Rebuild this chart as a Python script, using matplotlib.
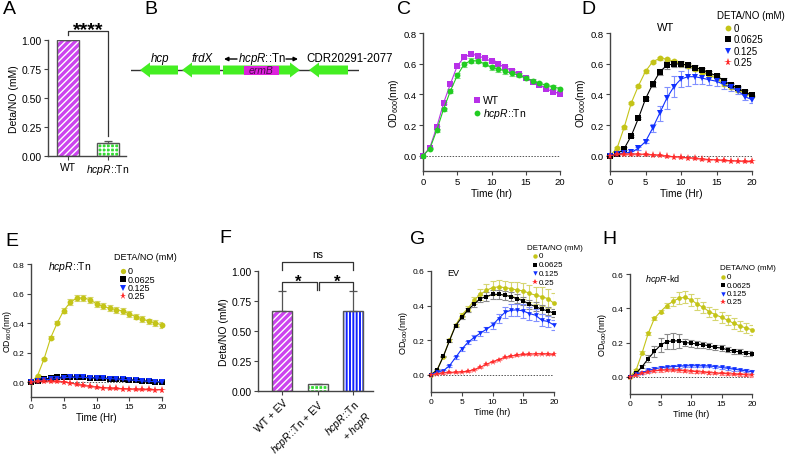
import matplotlib
matplotlib.use("Agg")
import matplotlib.pyplot as plt
import numpy as np
from matplotlib.lines import Line2D

plt.rcParams["font.family"] = ["Liberation Sans", "DejaVu Sans"]
plt.rcParams["mathtext.fontset"] = "custom"
plt.rcParams["mathtext.rm"] = "Liberation Sans"
plt.rcParams["mathtext.it"] = "Liberation Sans:italic"
plt.rcParams["mathtext.bf"] = "Liberation Sans:bold"
plt.rcParams["hatch.linewidth"] = 1.0

W, H = 788, 460
HCPR_TN = r"$\it{hcpR}$::Tn"
OD_LABEL = r"OD$_{600}$(nm)"

# ---- A: NO consumption
a_labels = ["WT", HCPR_TN]
a_values = [1.0, 0.11]
a_errors = [0.0, 0.02]

# ---- B: gene map (positions along the locus, arbitrary units)
gene_names = ["hcp", "frdX", "hcpR", "CDR20291-2077"]
gene_start = [9, 51, 92, 178]
gene_end = [47, 89, 169, 217]
gene_strand = [-1, -1, 1, -1]
ermb_start, ermb_end = 113, 148
locus_length = 228

hours = np.arange(21)

# ---- C: WT vs hcpR::Tn growth
c_wt = [0.0, 0.053, 0.185, 0.343, 0.468, 0.585, 0.642, 0.664, 0.653, 0.635, 0.615,
        0.598, 0.576, 0.554, 0.530, 0.508, 0.481, 0.462, 0.435, 0.418, 0.404]
c_wt_err = [0.0, 0.005, 0.008, 0.008, 0.008, 0.008, 0.008, 0.008, 0.008, 0.008, 0.008,
            0.008, 0.008, 0.008, 0.008, 0.008, 0.008, 0.008, 0.008, 0.008, 0.008]
c_tn = [0.0, 0.046, 0.165, 0.303, 0.422, 0.523, 0.596, 0.620, 0.618, 0.598, 0.576,
        0.565, 0.552, 0.536, 0.525, 0.505, 0.490, 0.473, 0.459, 0.448, 0.437]
c_tn_err = [0.0, 0.005, 0.008, 0.01, 0.012, 0.015, 0.015, 0.015, 0.015, 0.015, 0.015,
            0.018, 0.018, 0.018, 0.015, 0.012, 0.01, 0.01, 0.01, 0.01, 0.01]
c_labels = ["WT", HCPR_TN]

doses = ["0", "0.0625", "0.125", "0.25"]

# ---- D: WT with DETA/NO
d_vals = [
    [0.0, 0.050, 0.185, 0.344, 0.455, 0.550, 0.612, 0.635, 0.630, 0.615, 0.600,
     0.585, 0.565, 0.545, 0.525, 0.505, 0.465, 0.448, 0.430, 0.405, 0.390],
    [0.0, 0.010, 0.046, 0.130, 0.244, 0.370, 0.466, 0.545, 0.590, 0.598, 0.598,
     0.590, 0.575, 0.560, 0.540, 0.520, 0.490, 0.462, 0.440, 0.415, 0.395],
    [0.0, 0.009, 0.017, 0.022, 0.048, 0.092, 0.179, 0.277, 0.375, 0.450, 0.500,
     0.515, 0.515, 0.505, 0.495, 0.485, 0.465, 0.445, 0.425, 0.385, 0.365],
    [0.0, 0.008, 0.010, 0.010, 0.010, 0.008, 0.005, 0.002, -0.003, -0.007, -0.010,
     -0.014, -0.018, -0.022, -0.025, -0.028, -0.031, -0.033, -0.035, -0.037, -0.038],
]
d_errs = [
    [0.0, 0.005, 0.008, 0.008, 0.008, 0.008, 0.008, 0.008, 0.01, 0.01, 0.012,
     0.012, 0.012, 0.012, 0.012, 0.012, 0.012, 0.012, 0.012, 0.012, 0.012],
    [0.0, 0.005, 0.008, 0.008, 0.008, 0.01, 0.015, 0.02, 0.025, 0.02, 0.018,
     0.015, 0.015, 0.015, 0.015, 0.015, 0.015, 0.015, 0.015, 0.015, 0.015],
    [0.0, 0.004, 0.005, 0.006, 0.008, 0.012, 0.025, 0.05, 0.07, 0.07, 0.05,
     0.06, 0.045, 0.04, 0.035, 0.03, 0.03, 0.025, 0.025, 0.02, 0.02],
    [0.0, 0.003, 0.003, 0.003, 0.003, 0.003, 0.003, 0.003, 0.003, 0.003, 0.003,
     0.003, 0.003, 0.003, 0.003, 0.003, 0.003, 0.003, 0.003, 0.003, 0.003],
]

# ---- E: hcpR::Tn with DETA/NO
e_vals = [
    [0.0, 0.045, 0.158, 0.300, 0.401, 0.485, 0.541, 0.570, 0.570, 0.559, 0.530,
     0.514, 0.500, 0.491, 0.482, 0.462, 0.444, 0.428, 0.412, 0.401, 0.388],
    [0.0, 0.010, 0.020, 0.028, 0.032, 0.035, 0.036, 0.035, 0.033, 0.031, 0.029,
     0.027, 0.025, 0.022, 0.019, 0.016, 0.012, 0.009, 0.006, 0.003, 0.0],
    [0.0, 0.008, 0.015, 0.020, 0.025, 0.030, 0.034, 0.034, 0.033, 0.031, 0.029,
     0.027, 0.025, 0.022, 0.019, 0.016, 0.012, 0.009, 0.006, 0.004, 0.002],
    [0.0, 0.005, 0.007, 0.006, 0.005, 0.002, -0.005, -0.015, -0.022, -0.028, -0.033,
     -0.037, -0.040, -0.042, -0.044, -0.046, -0.047, -0.048, -0.049, -0.050, -0.050],
]
e_errs = [
    [0.0, 0.005, 0.008, 0.01, 0.01, 0.015, 0.02, 0.022, 0.022, 0.02, 0.02,
     0.02, 0.02, 0.02, 0.02, 0.02, 0.018, 0.018, 0.018, 0.018, 0.018],
    [0.0, 0.004, 0.004, 0.004, 0.004, 0.004, 0.004, 0.004, 0.004, 0.004, 0.004,
     0.004, 0.004, 0.004, 0.004, 0.004, 0.004, 0.004, 0.004, 0.004, 0.004],
    [0.0, 0.004, 0.004, 0.004, 0.004, 0.004, 0.004, 0.004, 0.004, 0.004, 0.004,
     0.004, 0.004, 0.004, 0.004, 0.004, 0.004, 0.004, 0.004, 0.004, 0.004],
    [0.0, 0.003, 0.003, 0.003, 0.003, 0.003, 0.003, 0.003, 0.003, 0.003, 0.003,
     0.003, 0.003, 0.003, 0.003, 0.003, 0.003, 0.003, 0.003, 0.003, 0.003],
]

# ---- F: complementation
f_labels = ["WT + EV", HCPR_TN + " + EV", HCPR_TN + "\n+ " + r"$\it{hcpR}$"]
f_values = [0.665, 0.06, 0.665]
f_errors = [0.165, 0.0, 0.165]

# ---- G: EV with DETA/NO
g_vals = [
    [0.0, 0.030, 0.105, 0.200, 0.287, 0.346, 0.383, 0.430, 0.465, 0.488, 0.504,
     0.508, 0.504, 0.498, 0.490, 0.485, 0.471, 0.460, 0.452, 0.440, 0.413],
    [0.0, 0.027, 0.106, 0.196, 0.283, 0.331, 0.375, 0.408, 0.440, 0.452, 0.465,
     0.465, 0.460, 0.452, 0.440, 0.427, 0.408, 0.394, 0.379, 0.369, 0.356],
    [0.0, 0.017, 0.023, 0.052, 0.100, 0.148, 0.187, 0.215, 0.240, 0.263, 0.287,
     0.325, 0.360, 0.373, 0.375, 0.369, 0.354, 0.344, 0.315, 0.308, 0.287],
    [0.0, 0.005, 0.010, 0.013, 0.015, 0.017, 0.020, 0.030, 0.043, 0.060, 0.075,
     0.088, 0.100, 0.108, 0.113, 0.117, 0.119, 0.120, 0.121, 0.120, 0.117],
]
g_errs = [
    [0.0, 0.005, 0.005, 0.008, 0.008, 0.01, 0.015, 0.02, 0.03, 0.035, 0.04,
     0.04, 0.04, 0.04, 0.045, 0.045, 0.05, 0.05, 0.055, 0.055, 0.06],
    [0.0, 0.005, 0.005, 0.008, 0.008, 0.01, 0.012, 0.015, 0.02, 0.025, 0.025,
     0.025, 0.025, 0.025, 0.025, 0.025, 0.025, 0.025, 0.025, 0.025, 0.025],
    [0.0, 0.004, 0.005, 0.006, 0.008, 0.01, 0.01, 0.012, 0.015, 0.015, 0.02,
     0.025, 0.03, 0.035, 0.035, 0.04, 0.04, 0.035, 0.035, 0.03, 0.03],
    [0.0, 0.003, 0.003, 0.003, 0.003, 0.003, 0.003, 0.003, 0.004, 0.004, 0.004,
     0.004, 0.004, 0.004, 0.004, 0.004, 0.004, 0.004, 0.004, 0.004, 0.004],
]

# ---- H: hcpR knockdown with DETA/NO
h_vals = [
    [0.0, 0.040, 0.142, 0.255, 0.341, 0.380, 0.415, 0.440, 0.458, 0.464, 0.450,
     0.425, 0.405, 0.380, 0.363, 0.347, 0.331, 0.312, 0.298, 0.285, 0.275],
    [0.0, 0.020, 0.060, 0.107, 0.148, 0.185, 0.205, 0.210, 0.210, 0.200, 0.197,
     0.191, 0.187, 0.181, 0.172, 0.168, 0.158, 0.150, 0.146, 0.138, 0.134],
    [0.0, 0.015, 0.025, 0.038, 0.047, 0.053, 0.057, 0.060, 0.062, 0.064, 0.065,
     0.065, 0.064, 0.063, 0.060, 0.055, 0.050, 0.045, 0.040, 0.035, 0.030],
    [0.0, 0.010, 0.020, 0.030, 0.035, 0.038, 0.040, 0.040, 0.038, 0.035, 0.033,
     0.030, 0.028, 0.025, 0.022, 0.020, 0.018, 0.016, 0.014, 0.012, 0.010],
]
h_errs = [
    [0.0, 0.005, 0.008, 0.008, 0.01, 0.01, 0.015, 0.025, 0.035, 0.035, 0.035,
     0.035, 0.03, 0.03, 0.03, 0.03, 0.03, 0.03, 0.03, 0.03, 0.03],
    [0.0, 0.006, 0.01, 0.02, 0.03, 0.04, 0.045, 0.045, 0.04, 0.02, 0.02,
     0.02, 0.018, 0.018, 0.015, 0.015, 0.015, 0.015, 0.015, 0.015, 0.015],
    [0.0, 0.005, 0.006, 0.008, 0.008, 0.008, 0.008, 0.008, 0.008, 0.008, 0.008,
     0.008, 0.008, 0.008, 0.008, 0.008, 0.008, 0.008, 0.008, 0.008, 0.008],
    [0.0, 0.005, 0.006, 0.008, 0.008, 0.008, 0.008, 0.008, 0.008, 0.008, 0.008,
     0.008, 0.008, 0.008, 0.008, 0.008, 0.008, 0.008, 0.008, 0.008, 0.008],
]

YELLOW, BLACK, BLUE, RED = "#c4c418", "#000000", "#1030ff", "#ff2a2a"
dose_styles = [
    dict(color=YELLOW, marker="o", ecolor="#d6d670"),
    dict(color=BLACK, marker="s", ecolor="#8a8a8a"),
    dict(color=BLUE, marker="v", ecolor="#8090ff"),
    dict(color=RED, marker="*", ecolor="#ff9090"),
]
c_styles = [dict(color="#b830e8", marker="s", ecolor="#d090f0"),
            dict(color="#22cc22", marker="o", ecolor="#80dd80")]
AXIS_COLOR = "#444444"

fig = plt.figure(figsize=(W / 100, H / 100), dpi=100)


def px_axes(x0, y0, x1, y1):
    return fig.add_axes([x0 / W, 1 - y1 / H, (x1 - x0) / W, (y1 - y0) / H])


def fig_text(x, y, s, **kw):
    kw.setdefault("va", "center")
    return fig.text(x / W, 1 - y / H, s, **kw)


def style_axes(ax, fs):
    for side in ("top", "right"):
        ax.spines[side].set_visible(False)
    for side in ("left", "bottom"):
        ax.spines[side].set_color(AXIS_COLOR)
        ax.spines[side].set_linewidth(1.0)
    ax.tick_params(direction="out", length=3, width=0.8, color=AXIS_COLOR,
                   labelsize=fs, pad=1.5)


def hatched_bars(ax, values, colors, hatches, width):
    for xi, v, c, h in zip(range(len(values)), values, colors, hatches):
        ax.bar(xi, v, width=width, color=c, edgecolor="white", hatch=h, linewidth=0)
        ax.bar(xi, v, width=width, fill=False, edgecolor="#555555", linewidth=1.0)


def bracket(ax, x0, x1, y, drop0, drop1):
    ax.plot([x0, x0, x1, x1], [drop0, y, y, drop1], color="#333333", lw=0.9,
            clip_on=False)


def marker_size(st, ms):
    return ms * 1.35 if st["marker"] == "*" else ms


def growth_panel(ax, series, errors, styles, ylim, yticks, ms, fs, xlabel):
    ax.axhline(0, color="#555555", lw=0.7, ls=(0, (1.5, 1.5)), zorder=1)
    for vals, errs, st in zip(series, errors, styles):
        ax.errorbar(hours, vals, yerr=errs, fmt="none", ecolor=st["ecolor"],
                    elinewidth=0.8, capsize=2, capthick=0.8, zorder=2)
        ax.plot(hours, vals, color=st["color"], lw=0.8, marker=st["marker"],
                markersize=marker_size(st, ms), markeredgewidth=0, clip_on=False,
                zorder=3)
    ax.set_xlim(0, 20)
    ax.set_ylim(*ylim)
    ax.set_xticks([0, 5, 10, 15, 20])
    ax.set_yticks(yticks)
    ax.set_yticklabels([f"{v:.1f}" for v in yticks])
    ax.set_xlabel(xlabel, fontsize=fs + 0.5, labelpad=1)
    ax.set_ylabel(OD_LABEL, fontsize=fs + 0.5, labelpad=2)
    style_axes(ax, fs)


def marker_legend(labels, styles, marker_x, text_x, y0, dy, ms, fs,
                  title=None, title_x=None, title_y=None):
    if title is not None:
        fig_text(title_x, title_y, title, fontsize=fs, ha="left")
    for i, (label, st) in enumerate(zip(labels, styles)):
        y = y0 + i * dy
        fig.add_artist(Line2D([marker_x / W], [1 - y / H], transform=fig.transFigure,
                              ls="none", marker=st["marker"], color=st["color"],
                              markersize=marker_size(st, ms), markeredgewidth=0))
        fig_text(text_x, y, label, fontsize=fs, ha="left")


# ---------------- A
ax = px_axes(48, 41, 126, 157)
hatched_bars(ax, a_values, ["#cc44ee", "#33dd33"], ["/////", "++++"], 0.55)
ax.errorbar([0, 1], a_values, yerr=[[0, 0], a_errors], fmt="none", ecolor="#555555",
            elinewidth=0.9, capsize=3, capthick=0.9)
ax.set_xlim(-0.5, 1.45)
ax.set_ylim(0, 1.0)
ax.set_yticks([0, 0.25, 0.5, 0.75, 1.0])
ax.set_yticklabels(["0.00", "0.25", "0.50", "0.75", "1.00"])
ax.set_xticks([0, 1])
ax.set_xticklabels(a_labels)
ax.set_ylabel("Deta/NO (mM)", fontsize=7.5, labelpad=2)
style_axes(ax, 7.5)
bracket(ax, 0, 1, 1.078, 1.045, 0.17)
ax.text(0.5, 1.05, "****", ha="center", va="baseline", fontsize=14,
        fontweight="bold", clip_on=False)
fig_text(3, 10, "A", fontsize=14)

# ---------------- B
ax = px_axes(131, 41, 359, 101)
ax.set_xlim(0, locus_length)
ax.set_ylim(-30, 30)
ax.axis("off")
ax.plot([0, locus_length], [0, 0], color="#333333", lw=1.0, zorder=1)
body, head, head_len = 4.5, 7.5, 10
for name, s, e, strand in zip(gene_names, gene_start, gene_end, gene_strand):
    if strand > 0:
        xs = [s, e - head_len, e - head_len, e, e - head_len, e - head_len, s]
    else:
        xs = [e, s + head_len, s + head_len, s, s + head_len, s + head_len, e]
    ys = [-body, -body, -head, 0, head, body, body]
    ax.fill(xs, ys, color="#44ee22", lw=0, zorder=2)
ax.fill([ermb_start, ermb_end, ermb_end, ermb_start], [-body, -body, body, body],
        color="#dd22dd", lw=0, zorder=3)
ax.text((ermb_start + ermb_end) / 2, -0.5, "ermB", style="italic", fontsize=7.5,
        color="#4a0a4a", ha="center", va="center", zorder=4)
for name, s, e in zip(gene_names[:2], gene_start[:2], gene_end[:2]):
    ax.text((s + e) / 2 + 1, 11.5, name, style="italic", fontsize=8.3,
            ha="center", va="center")
tn_mid = (gene_start[2] + gene_end[2]) / 2
ax.text(tn_mid, 11.5, HCPR_TN, fontsize=8.3, ha="center", va="center")
ax.annotate("", xy=(gene_start[2] + 1, 11), xytext=(gene_start[2] + 14, 11),
            arrowprops=dict(arrowstyle="-|>", lw=1.0, color="k", mutation_scale=6,
                            shrinkA=0, shrinkB=0))
ax.annotate("", xy=(gene_end[2] - 2, 11), xytext=(gene_end[2] - 14, 11),
            arrowprops=dict(arrowstyle="-|>", lw=1.0, color="k", mutation_scale=6,
                            shrinkA=0, shrinkB=0))
ax.text(gene_start[3] - 3, 11.5, gene_names[3], fontsize=8.3, ha="left",
        va="center", clip_on=False)
fig_text(144, 10, "B", fontsize=14)

# ---------------- C
ax = px_axes(423, 34, 560, 172)
growth_panel(ax, [c_wt, c_tn], [c_wt_err, c_tn_err], c_styles, (-0.1, 0.8),
             [0.0, 0.2, 0.4, 0.6, 0.8], 4.2, 6.8, "Time (hr)")
marker_legend(c_labels, c_styles, 477, 483, 101, 13, 4.2, 7.5)
fig_text(397, 10, "C", fontsize=14)

# ---------------- D
ax = px_axes(610, 34, 752, 172)
growth_panel(ax, d_vals, d_errs, dose_styles, (-0.1, 0.8),
             [0.0, 0.2, 0.4, 0.6, 0.8], 4.2, 6.8, "Time (Hr)")
fig_text(666, 28, "WT", fontsize=8, ha="center")
marker_legend(doses, dose_styles, 728, 734, 29, 11.3, 4.2, 7,
              "DETA/NO (mM)", 717, 16)
fig_text(581, 10, "D", fontsize=14)

# ---------------- E
ax = px_axes(31, 265, 162, 398)
growth_panel(ax, e_vals, e_errs, dose_styles, (-0.1, 0.8),
             [0.0, 0.2, 0.4, 0.6, 0.8], 4.2, 6, "Time (Hr)")
ax.xaxis.label.set_fontsize(7)
ax.yaxis.label.set_fontsize(6.3)
ax.yaxis.set_label_coords(-0.13, 0.5)
fig_text(70, 267, HCPR_TN, fontsize=7.5, ha="center")
marker_legend(doses, dose_styles, 123, 128, 272, 8.3, 3.8, 6.5,
              "DETA/NO (mM)", 114, 257)
fig_text(5, 242, "E", fontsize=14)

# ---------------- F
ax = px_axes(258, 272, 373, 392)
hatched_bars(ax, f_values, ["#cc44ee", "#33dd33", "#1020ff"],
             ["/////", "++++", "|||||"], 0.56)
ax.errorbar([0, 1, 2], f_values, yerr=[[0, 0, 0], f_errors], fmt="none",
            ecolor="#555555", elinewidth=0.9, capsize=3, capthick=0.9)
ax.set_xlim(-0.68, 2.56)
ax.set_ylim(0, 1.0)
ax.set_yticks([0, 0.25, 0.5, 0.75, 1.0])
ax.set_yticklabels(["0.00", "0.25", "0.50", "0.75", "1.00"])
ax.set_xticks([0, 1, 2])
ax.set_xticklabels(f_labels, rotation=45, ha="right", rotation_mode="anchor")
ax.set_ylabel("Deta/NO (mM)", fontsize=7.5, labelpad=2)
style_axes(ax, 7.5)
bracket(ax, 0, 2, 1.075, 1.01, 1.01)
ax.text(1, 1.117, "ns", ha="center", va="baseline", fontsize=7.5, clip_on=False)
bracket(ax, 0, 0.97, 0.908, 0.84, 0.84)
bracket(ax, 1.05, 2, 0.908, 0.84, 0.84)
ax.text(0.45, 0.875, "*", ha="center", va="baseline", fontsize=12, fontweight="bold")
ax.text(1.55, 0.875, "*", ha="center", va="baseline", fontsize=12, fontweight="bold")
fig_text(219, 239, "F", fontsize=14)

# ---------------- G
ax = px_axes(431, 272, 554, 393)
growth_panel(ax, g_vals, g_errs, dose_styles, (-0.1, 0.6),
             [0.0, 0.2, 0.4, 0.6], 3.4, 6, "Time (hr)")
fig_text(453, 273, "EV", fontsize=6.5, ha="center")
marker_legend(doses, dose_styles, 535, 539, 257, 8.7, 3.2, 5.8,
              "DETA/NO (mM)", 527, 249)
fig_text(410, 240, "G", fontsize=14)

# ---------------- H
ax = px_axes(630, 275, 752, 395)
growth_panel(ax, h_vals, h_errs, dose_styles, (-0.1, 0.6),
             [0.0, 0.2, 0.4, 0.6], 3.4, 6, "Time (hr)")
fig_text(662, 279, r"$\it{hcpR}$-kd", fontsize=6.5, ha="center")
marker_legend(doses, dose_styles, 723, 727, 278, 8.3, 3.2, 5.8,
              "DETA/NO (mM)", 720, 269)
fig_text(602, 240, "H", fontsize=14)

fig.savefig("out.png", dpi=100)
